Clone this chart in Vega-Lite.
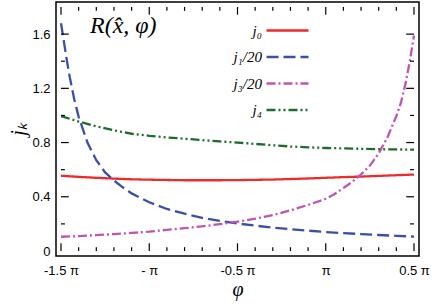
{
  "$schema": "https://vega.github.io/schema/vega-lite/v6.json",
  "width": 363,
  "height": 254,
  "autosize": "none",
  "padding": {"left": 56, "top": 2, "right": 17, "bottom": 50},
  "title": {"text": "R(x̂, φ)", "anchor": "start", "frame": "group", "orient": "top", "dx": 34, "dy": 40, "font": "Liberation Serif", "fontStyle": "italic", "fontWeight": "normal", "fontSize": 24, "color": "#000"},
  "config": {
    "view": {"stroke": "#000", "strokeWidth": 1.5},
    "axis": {"domain": false, "ticks": false, "grid": false, "labelFont": "Liberation Sans", "labelFontSize": 13, "labelColor": "#000"},
    "legend": {"orient": "none", "legendX": 224, "legendY": 21, "padding": 0, "symbolType": "M-5.25,0H5.25", "symbolSize": 64, "symbolStrokeWidth": 2.5, "labelFont": "Liberation Serif", "labelFontStyle": "italic", "labelFontSize": 15, "labelColor": "#000", "labelAlign": "right", "labelOffset": -33, "rowPadding": 10.5}
  },
  "resolve": {"axis": {"x": "independent", "y": "independent"}},
  "datasets": {
    "curves": [
      {"x": -1.5, "v": 0.555, "s": "j₀"}, {"x": -1.4, "v": 0.547, "s": "j₀"}, {"x": -1.3, "v": 0.540, "s": "j₀"}, {"x": -1.2, "v": 0.534, "s": "j₀"}, {"x": -1.1, "v": 0.529, "s": "j₀"}, {"x": -1.0, "v": 0.526, "s": "j₀"}, {"x": -0.9, "v": 0.524, "s": "j₀"}, {"x": -0.8, "v": 0.522, "s": "j₀"}, {"x": -0.7, "v": 0.522, "s": "j₀"}, {"x": -0.6, "v": 0.522, "s": "j₀"}, {"x": -0.5, "v": 0.523, "s": "j₀"}, {"x": -0.4, "v": 0.525, "s": "j₀"}, {"x": -0.3, "v": 0.527, "s": "j₀"}, {"x": -0.2, "v": 0.531, "s": "j₀"}, {"x": -0.1, "v": 0.535, "s": "j₀"}, {"x": 0.0, "v": 0.540, "s": "j₀"}, {"x": 0.1, "v": 0.545, "s": "j₀"}, {"x": 0.2, "v": 0.549, "s": "j₀"}, {"x": 0.3, "v": 0.554, "s": "j₀"}, {"x": 0.4, "v": 0.559, "s": "j₀"}, {"x": 0.5, "v": 0.564, "s": "j₀"},
      {"x": -1.5, "v": 1.68, "s": "j₁/20"}, {"x": -1.49, "v": 1.6, "s": "j₁/20"}, {"x": -1.47, "v": 1.43, "s": "j₁/20"}, {"x": -1.45, "v": 1.28, "s": "j₁/20"}, {"x": -1.425, "v": 1.12, "s": "j₁/20"}, {"x": -1.4, "v": 0.99, "s": "j₁/20"}, {"x": -1.35, "v": 0.80, "s": "j₁/20"}, {"x": -1.3, "v": 0.67, "s": "j₁/20"}, {"x": -1.25, "v": 0.58, "s": "j₁/20"}, {"x": -1.2, "v": 0.52, "s": "j₁/20"}, {"x": -1.15, "v": 0.47, "s": "j₁/20"}, {"x": -1.1, "v": 0.425, "s": "j₁/20"}, {"x": -1.0, "v": 0.36, "s": "j₁/20"}, {"x": -0.9, "v": 0.31, "s": "j₁/20"}, {"x": -0.8, "v": 0.275, "s": "j₁/20"}, {"x": -0.7, "v": 0.245, "s": "j₁/20"}, {"x": -0.6, "v": 0.222, "s": "j₁/20"}, {"x": -0.5, "v": 0.203, "s": "j₁/20"}, {"x": -0.4, "v": 0.187, "s": "j₁/20"}, {"x": -0.3, "v": 0.173, "s": "j₁/20"}, {"x": -0.2, "v": 0.161, "s": "j₁/20"}, {"x": -0.1, "v": 0.150, "s": "j₁/20"}, {"x": 0.0, "v": 0.140, "s": "j₁/20"}, {"x": 0.1, "v": 0.132, "s": "j₁/20"}, {"x": 0.2, "v": 0.125, "s": "j₁/20"}, {"x": 0.3, "v": 0.118, "s": "j₁/20"}, {"x": 0.4, "v": 0.112, "s": "j₁/20"}, {"x": 0.5, "v": 0.106, "s": "j₁/20"},
      {"x": -1.5, "v": 0.105, "s": "j₃/20"}, {"x": -1.4, "v": 0.11, "s": "j₃/20"}, {"x": -1.3, "v": 0.117, "s": "j₃/20"}, {"x": -1.2, "v": 0.125, "s": "j₃/20"}, {"x": -1.1, "v": 0.133, "s": "j₃/20"}, {"x": -1.0, "v": 0.143, "s": "j₃/20"}, {"x": -0.9, "v": 0.156, "s": "j₃/20"}, {"x": -0.8, "v": 0.168, "s": "j₃/20"}, {"x": -0.7, "v": 0.182, "s": "j₃/20"}, {"x": -0.6, "v": 0.198, "s": "j₃/20"}, {"x": -0.5, "v": 0.216, "s": "j₃/20"}, {"x": -0.4, "v": 0.238, "s": "j₃/20"}, {"x": -0.3, "v": 0.265, "s": "j₃/20"}, {"x": -0.2, "v": 0.30, "s": "j₃/20"}, {"x": -0.1, "v": 0.34, "s": "j₃/20"}, {"x": 0.0, "v": 0.385, "s": "j₃/20"}, {"x": 0.05, "v": 0.42, "s": "j₃/20"}, {"x": 0.1, "v": 0.465, "s": "j₃/20"}, {"x": 0.15, "v": 0.51, "s": "j₃/20"}, {"x": 0.2, "v": 0.565, "s": "j₃/20"}, {"x": 0.25, "v": 0.63, "s": "j₃/20"}, {"x": 0.3, "v": 0.72, "s": "j₃/20"}, {"x": 0.35, "v": 0.84, "s": "j₃/20"}, {"x": 0.4, "v": 0.995, "s": "j₃/20"}, {"x": 0.425, "v": 1.09, "s": "j₃/20"}, {"x": 0.45, "v": 1.224, "s": "j₃/20"}, {"x": 0.475, "v": 1.39, "s": "j₃/20"}, {"x": 0.5, "v": 1.59, "s": "j₃/20"},
      {"x": -1.5, "v": 0.995, "s": "j₄"}, {"x": -1.4, "v": 0.955, "s": "j₄"}, {"x": -1.3, "v": 0.92, "s": "j₄"}, {"x": -1.2, "v": 0.89, "s": "j₄"}, {"x": -1.1, "v": 0.865, "s": "j₄"}, {"x": -1.0, "v": 0.85, "s": "j₄"}, {"x": -0.9, "v": 0.838, "s": "j₄"}, {"x": -0.8, "v": 0.828, "s": "j₄"}, {"x": -0.7, "v": 0.818, "s": "j₄"}, {"x": -0.6, "v": 0.808, "s": "j₄"}, {"x": -0.5, "v": 0.80, "s": "j₄"}, {"x": -0.4, "v": 0.79, "s": "j₄"}, {"x": -0.3, "v": 0.78, "s": "j₄"}, {"x": -0.2, "v": 0.771, "s": "j₄"}, {"x": -0.1, "v": 0.765, "s": "j₄"}, {"x": 0.0, "v": 0.76, "s": "j₄"}, {"x": 0.1, "v": 0.757, "s": "j₄"}, {"x": 0.2, "v": 0.754, "s": "j₄"}, {"x": 0.3, "v": 0.751, "s": "j₄"}, {"x": 0.4, "v": 0.749, "s": "j₄"}, {"x": 0.5, "v": 0.748, "s": "j₄"}
    ],
    "txMajor": [{"t": -1.5}, {"t": -1.0}, {"t": -0.5}, {"t": 0.0}, {"t": 0.5}],
    "txMinor": [{"t": -1.4}, {"t": -1.3}, {"t": -1.2}, {"t": -1.1}, {"t": -0.9}, {"t": -0.8}, {"t": -0.7}, {"t": -0.6}, {"t": -0.4}, {"t": -0.3}, {"t": -0.2}, {"t": -0.1}, {"t": 0.1}, {"t": 0.2}, {"t": 0.3}, {"t": 0.4}],
    "tyMajor": [{"t": 0.4}, {"t": 0.8}, {"t": 1.2}, {"t": 1.6}],
    "tyMinor": [{"t": 0.2}, {"t": 0.6}, {"t": 1.0}, {"t": 1.4}]
  },
  "layer": [
    {
      "data": {"name": "curves"},
      "mark": {"type": "line", "strokeWidth": 2.3, "clip": true},
      "encoding": {
        "x": {"field": "x", "type": "quantitative", "scale": {"domain": [-1.5, 0.5], "nice": false, "zero": false},
          "axis": {"orient": "bottom", "values": [-1.5, -1, -0.5, 0, 0.5], "labelPadding": 8, "labelFlush": false, "labelOverlap": false,
            "labelExpr": "datum.value === -1.5 ? '-1.5 π' : datum.value === -1 ? '- π' : datum.value === -0.5 ? '-0.5 π' : datum.value === 0 ? 'π' : '0.5 π'",
            "title": "φ", "titleFont": "Liberation Serif", "titleFontStyle": "italic", "titleFontWeight": "normal", "titleFontSize": 20, "titlePadding": 2, "titleColor": "#000"}},
        "y": {"field": "v", "type": "quantitative", "scale": {"domain": [0, 1.8], "nice": false, "zero": false},
          "axis": {"orient": "left", "values": [0, 0.4, 0.8, 1.2, 1.6], "labelPadding": 6, "labelFlush": false, "labelOverlap": false,
            "labelExpr": "datum.value === 0 ? '0' : format(datum.value, '.1f')",
            "title": "jₖ", "titleFont": "Liberation Serif", "titleFontStyle": "italic", "titleFontWeight": "normal", "titleFontSize": 20, "titlePadding": 3, "titleColor": "#000"}},
        "color": {"field": "s", "type": "nominal", "scale": {"domain": ["j₀", "j₁/20", "j₃/20", "j₄"], "range": ["#ee2a2a", "#3b4fa8", "#c054b4", "#1e6b2e"]}, "legend": {"title": null}},
        "strokeDash": {"field": "s", "type": "nominal", "scale": {"domain": ["j₀", "j₁/20", "j₃/20", "j₄"], "range": [[1, 0], [12, 5], [9, 3, 2, 3], [9, 3, 2, 3, 2, 3]]}, "legend": {"title": null}}
      }
    },
    {
      "data": {"name": "txMajor"},
      "mark": {"type": "bar", "width": 1.2, "color": "#000"},
      "encoding": {"x": {"field": "t", "type": "quantitative", "axis": null}, "y": {"datum": 0, "type": "quantitative", "axis": null}, "y2": {"datum": 0.0567}}
    },
    {
      "data": {"name": "txMinor"},
      "mark": {"type": "bar", "width": 1.2, "color": "#000"},
      "encoding": {"x": {"field": "t", "type": "quantitative", "axis": null}, "y": {"datum": 0, "type": "quantitative", "axis": null}, "y2": {"datum": 0.0283}}
    },
    {
      "data": {"name": "txMajor"},
      "mark": {"type": "bar", "width": 1.2, "color": "#000"},
      "encoding": {"x": {"field": "t", "type": "quantitative", "axis": null}, "y": {"datum": 1.7433, "type": "quantitative", "axis": null}, "y2": {"datum": 1.8}}
    },
    {
      "data": {"name": "txMinor"},
      "mark": {"type": "bar", "width": 1.2, "color": "#000"},
      "encoding": {"x": {"field": "t", "type": "quantitative", "axis": null}, "y": {"datum": 1.7717, "type": "quantitative", "axis": null}, "y2": {"datum": 1.8}}
    },
    {
      "data": {"name": "tyMajor"},
      "mark": {"type": "bar", "height": 1.2, "orient": "horizontal", "color": "#000"},
      "encoding": {"y": {"field": "t", "type": "quantitative", "axis": null}, "x": {"datum": -1.5, "type": "quantitative", "axis": null}, "x2": {"datum": -1.4559}}
    },
    {
      "data": {"name": "tyMinor"},
      "mark": {"type": "bar", "height": 1.2, "orient": "horizontal", "color": "#000"},
      "encoding": {"y": {"field": "t", "type": "quantitative", "axis": null}, "x": {"datum": -1.5, "type": "quantitative", "axis": null}, "x2": {"datum": -1.478}}
    },
    {
      "data": {"name": "tyMajor"},
      "mark": {"type": "bar", "height": 1.2, "orient": "horizontal", "color": "#000"},
      "encoding": {"y": {"field": "t", "type": "quantitative", "axis": null}, "x": {"datum": 0.4559, "type": "quantitative", "axis": null}, "x2": {"datum": 0.5}}
    },
    {
      "data": {"name": "tyMinor"},
      "mark": {"type": "bar", "height": 1.2, "orient": "horizontal", "color": "#000"},
      "encoding": {"y": {"field": "t", "type": "quantitative", "axis": null}, "x": {"datum": 0.478, "type": "quantitative", "axis": null}, "x2": {"datum": 0.5}}
    }
  ]
}
